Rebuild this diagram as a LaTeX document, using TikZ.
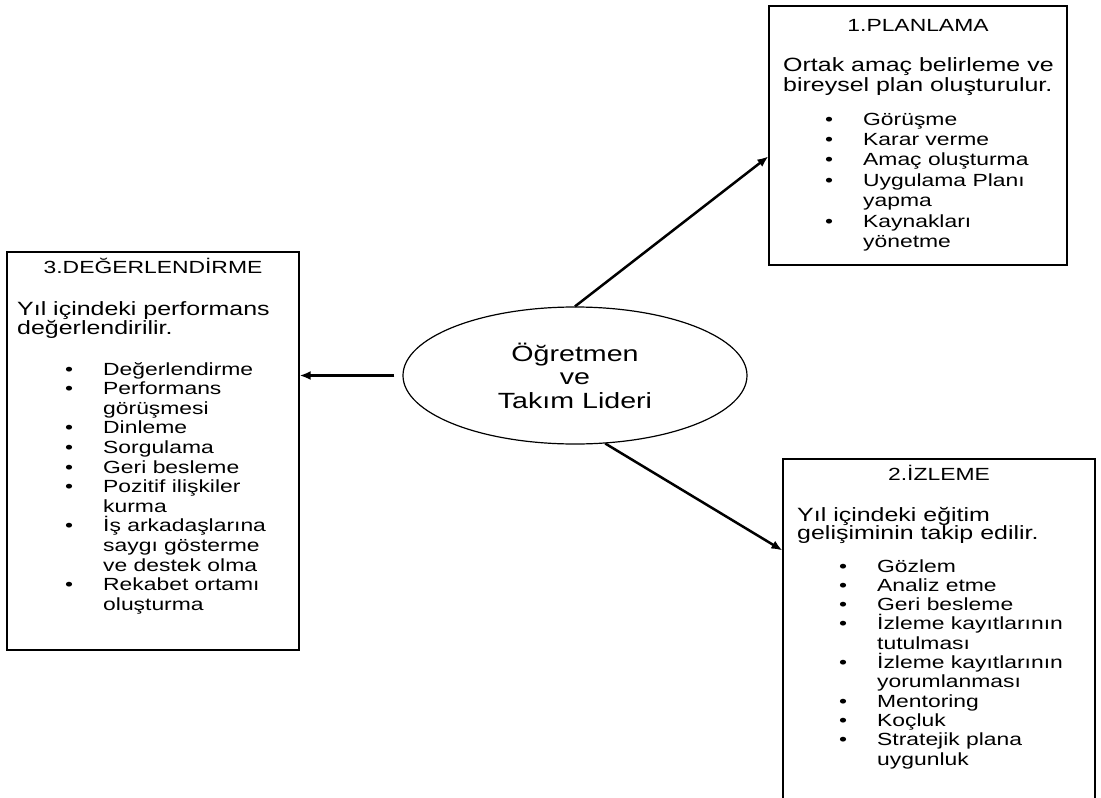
\documentclass[tikz,border=0pt]{standalone}
\usepackage{fontspec}
\setmainfont{Liberation Sans}[FakeStretch=1.3]
\usetikzlibrary{arrows.meta,shapes.geometric,calc}

% bullet column and its blank twin for wrapped lines
\newcommand{\itemdot}{\makebox[38pt][l]{\textbullet}}
\newcommand{\itemgap}{\hspace*{38pt}}

\begin{document}
\begin{tikzpicture}[x=1pt,y=-1pt,
  box/.style={draw, line width=1.2pt, rectangle, inner sep=0pt},
  ttl/.style={inner sep=0pt, anchor=base, font=\fontsize{17.6}{20}\selectfont},
  dsc/.style={inner sep=0pt, anchor=base west, text height=13.5pt, text depth=4pt,
              font=\fontsize{19.2}{20}\selectfont},
  itm/.style={inner sep=0pt, anchor=base west, text height=13pt, text depth=4pt,
              font=\fontsize{17.6}{20}\selectfont},
  link/.style={line width=2.5pt, -{Latex[length=11pt,width=9pt]}},
]
\useasboundingbox (0,0) rectangle (1101,798);
\fill[white] (0,0) rectangle (1101,798);
\clip (0,0) rectangle (1101,798);

% central ellipse
\node[draw, ellipse, line width=1.2pt, minimum width=344pt, minimum height=137pt,
      inner sep=0pt, align=center, font=\fontsize{22}{23.5}\selectfont]
  (ell) at (575,375.5) {Öğretmen\\ve\\Takım Lideri};

% 1. Planlama
\node[box, minimum width=298pt, minimum height=259pt] (plan) at (918,135.5) {};
\node[ttl] (planT) at (918,31) {1.PLANLAMA};
\foreach [count=\i from 0] \t in {Ortak amaç belirleme ve, bireysel plan oluşturulur.}
  \node[dsc] (planD\i) at (783,{71+20*\i}) {\t};
\foreach [count=\i from 0] \t in {\itemdot Görüşme, \itemdot Karar verme,
    \itemdot Amaç oluşturma, \itemdot Uygulama Planı, \itemgap yapma,
    \itemdot Kaynakları, \itemgap yönetme}
  \node[itm] (planI\i) at (825,{125+20.4*\i}) {\t};

% 2. Izleme (runs off the lower edge)
\node[box, minimum width=312pt, minimum height=371pt] (izl) at (939,644.5) {};
\node[ttl] (izlT) at (939,480) {2.İZLEME};
\foreach [count=\i from 0] \t in {Yıl içindeki eğitim, gelişiminin takip edilir.}
  \node[dsc] (izlD\i) at (797,{521+18.5*\i}) {\t};
\foreach [count=\i from 0] \t in {\itemdot Gözlem, \itemdot Analiz etme,
    \itemdot Geri besleme, \itemdot İzleme kayıtlarının, \itemgap tutulması,
    \itemdot İzleme kayıtlarının, \itemgap yorumlanması, \itemdot Mentoring,
    \itemdot Koçluk, \itemdot Stratejik plana, \itemgap uygunluk}
  \node[itm] (izlI\i) at (839,{572+19.3*\i}) {\t};

% 3. Degerlendirme
\node[box, minimum width=292pt, minimum height=398pt] (deg) at (153,451) {};
\node[ttl] (degT) at (153,273) {3.DEĞERLENDİRME};
\foreach [count=\i from 0] \t in {Yıl içindeki performans, değerlendirilir.}
  \node[dsc] (degD\i) at (17,{315+19*\i}) {\t};
\foreach [count=\i from 0] \t in {\itemdot Değerlendirme, \itemdot Performans,
    \itemgap görüşmesi, \itemdot Dinleme, \itemdot Sorgulama,
    \itemdot Geri besleme, \itemdot Pozitif ilişkiler, \itemgap kurma,
    \itemdot İş arkadaşlarına, \itemgap saygı gösterme, \itemgap ve destek olma,
    \itemdot Rekabet ortamı, \itemgap oluşturma}
  \node[itm] (degI\i) at (65,{375+19.6*\i}) {\t};

% connectors
\draw[link] (ell.north) -- ($(plan.north west)!151pt!(plan.south west)$);
\draw[link] ([xshift=-8pt]ell.west) -- (ell.west -| deg.east);
\draw[link] (ell.-66) -- ($(izl.north west)!92pt!(izl.south west)$);
\end{tikzpicture}
\end{document}
